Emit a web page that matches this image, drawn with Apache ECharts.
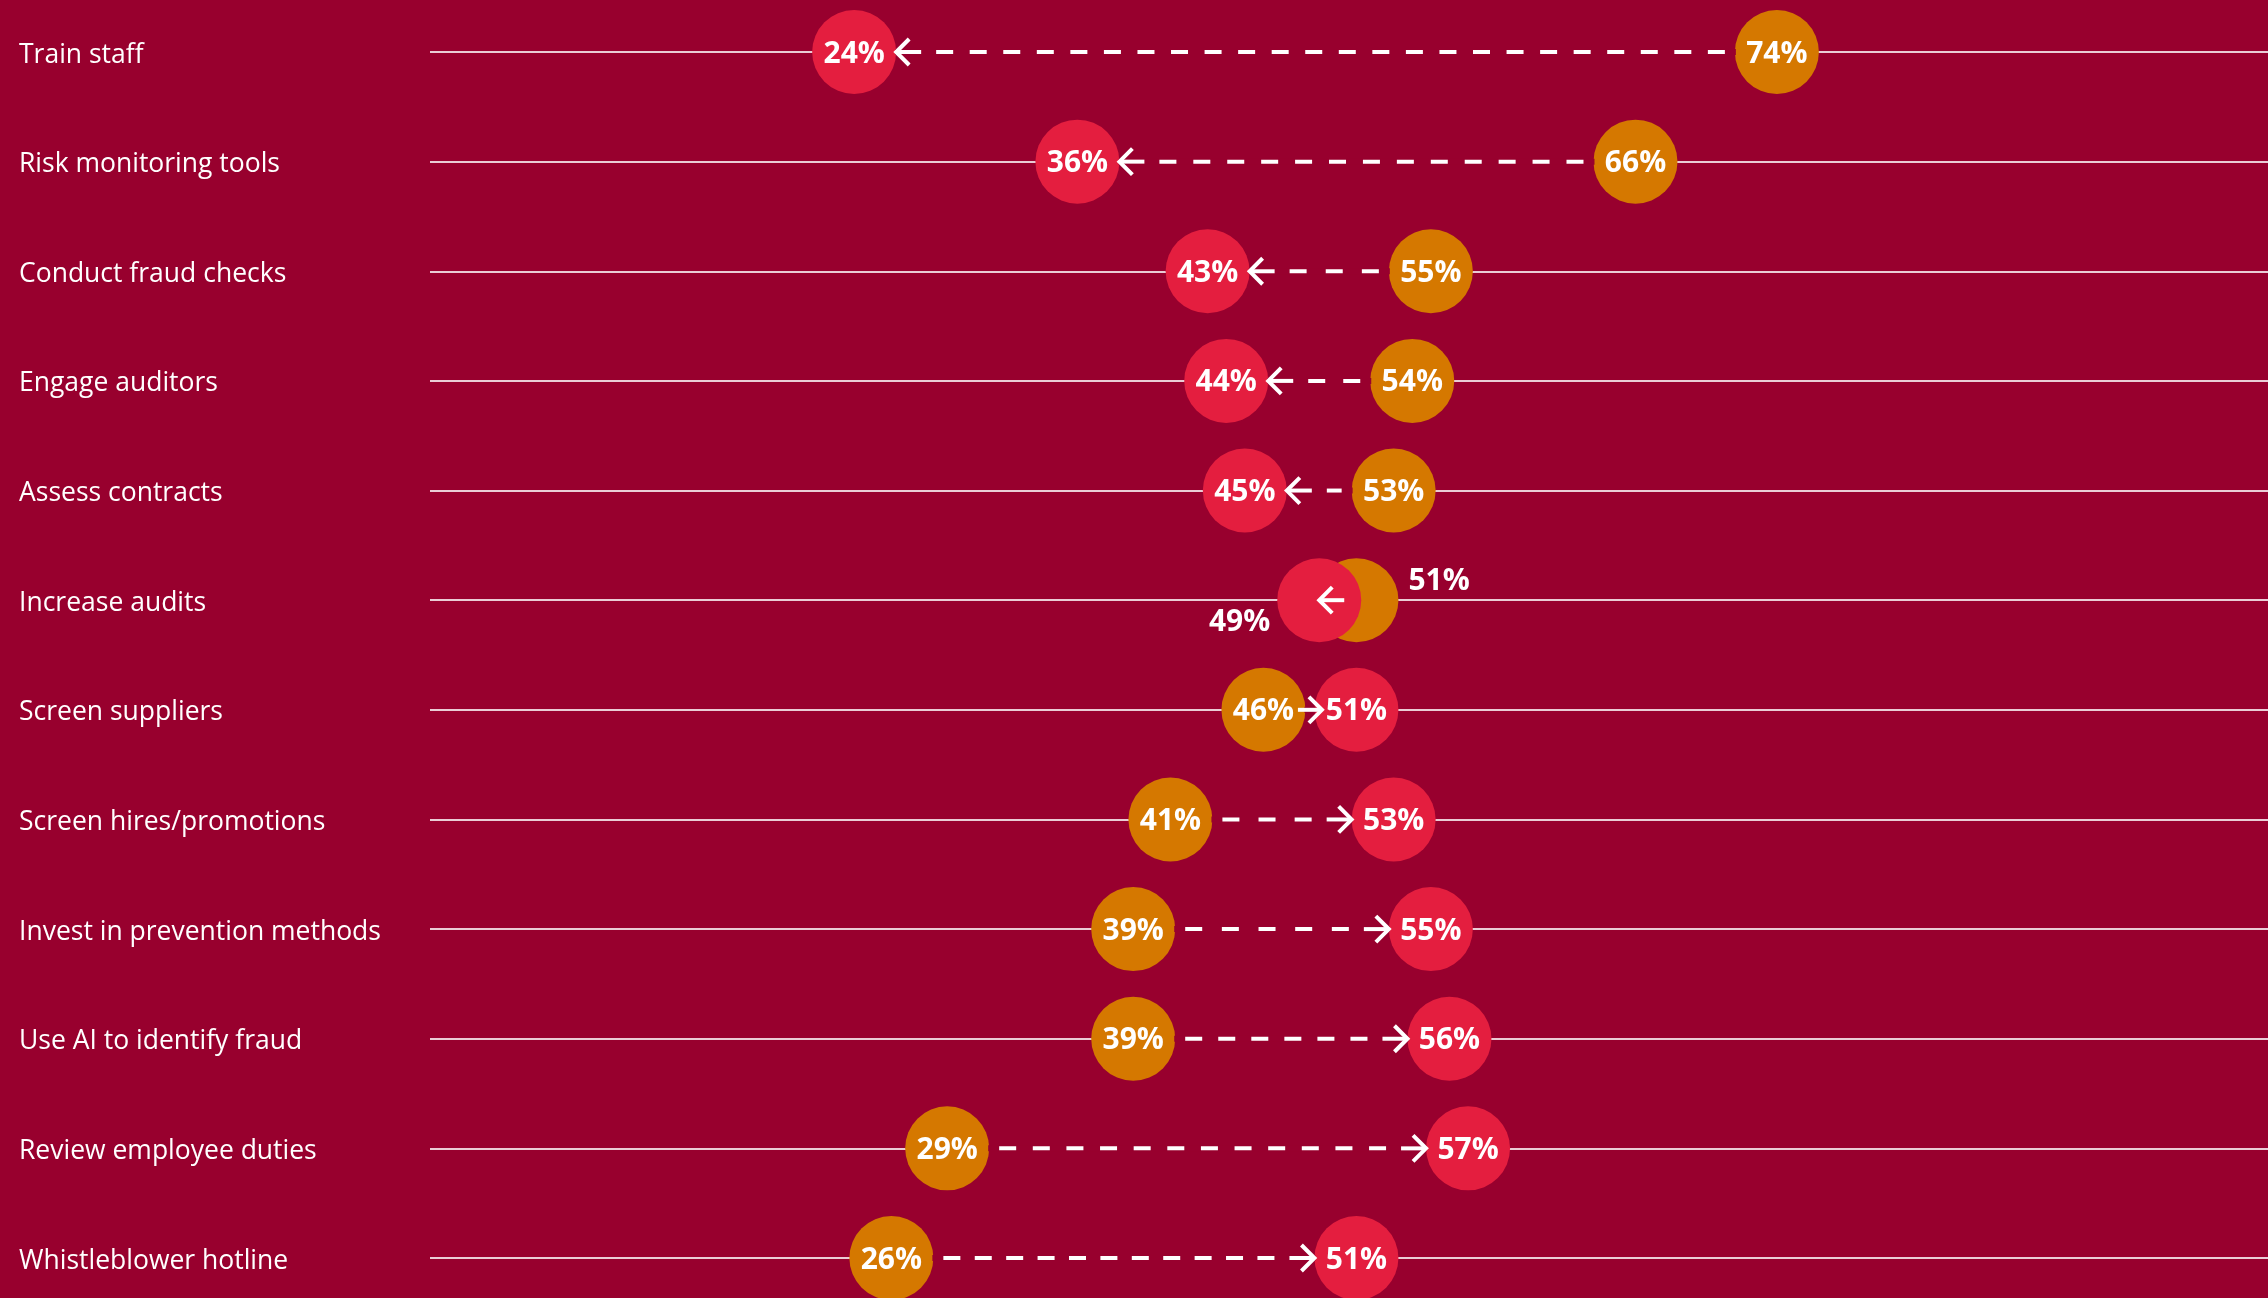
<!DOCTYPE html>
<html>
<head>
<meta charset="utf-8">
<script src="https://cdn.jsdelivr.net/npm/echarts@6/dist/echarts.min.js"></script>
<style>
  html, body { margin: 0; padding: 0; background: #98002E; }
  #chart { width: 2268px; height: 1298px; }
</style>
</head>
<body>
<div id="chart"></div>
<script>
// ---- data ----
const categories = [
  'Train staff',
  'Risk monitoring tools',
  'Conduct fraud checks',
  'Engage auditors',
  'Assess contracts',
  'Increase audits',
  'Screen suppliers',
  'Screen hires/promotions',
  'Invest in prevention methods',
  'Use AI to identify fraud',
  'Review employee duties',
  'Whistleblower hotline'
];
// starting values (orange circles)
const fromValues = [73.6, 66, 55, 54, 53, 51, 46, 41, 39, 39, 29, 26];
// ending values (red circles, arrow heads point at them)
const toValues = [24, 36, 43, 44, 45, 49, 51, 53, 55, 56, 57, 51];

// ---- styling ----
const BG = '#98002E';
const RED = '#E41E3F';
const ORANGE = '#D57800';
const R = 42;             // circle radius in px
const LABEL_FONT = '"Open Sans", "Noto Sans", sans-serif';
const DASH = 17, GAP = 16;

function pct(v) { return Math.round(v) + '%'; }

function overlaps(i) { return Math.abs(fromValues[i] - toValues[i]) < 4.5; }

const fromData = fromValues.map((v, i) => {
  const item = { value: [v, i] };
  if (overlaps(i)) {
    item.label = { position: 'right', distance: 10, offset: [0, -19] };
  }
  return item;
});
const toData = toValues.map((v, i) => {
  const item = { value: [v, i] };
  if (overlaps(i)) {
    item.label = { position: 'left', distance: 7, offset: [0, 22] };
  }
  return item;
});
const arrowData = categories.map((c, i) => [i, fromValues[i], toValues[i]]);

const chart = echarts.init(document.getElementById('chart'), null, { renderer: 'canvas' });

function renderArrow(params, api) {
  const idx = api.value(0);
  const pFrom = api.coord([api.value(1), idx]);
  const pTo = api.coord([api.value(2), idx]);
  const y = pFrom[1];
  const dx = pTo[0] - pFrom[0];
  const dir = dx >= 0 ? 1 : -1;      // direction of travel
  const s = -dir;                     // from tip back toward tail
  const dist = Math.abs(dx);
  const children = [];
  let tip, tail, fit = true;
  if (dist < 2 * R) {
    tip = pTo[0];
    tail = pFrom[0] + dir * 6;
    fit = false;
  } else {
    children.push({
      type: 'line',
      shape: { x1: pFrom[0] + dir * (R - 1), y1: y, x2: pTo[0] - dir * (R - 1), y2: y },
      style: { stroke: BG, lineWidth: 6 }
    });
    if (dist - 2 * R < 40) {
      const mid = (pFrom[0] + pTo[0]) / 2;
      tip = mid + dir * 12;
      tail = mid - dir * 12;
    } else {
      tip = pTo[0] - dir * R;
      tail = pFrom[0] + dir * (R + 10);
    }
  }
  const shaft = Math.min(25, Math.abs(tip - tail));
  const style = { stroke: '#ffffff', lineWidth: 4, fill: null };
  children.push({
    type: 'polyline',
    shape: { points: [[tip + s * 13, y - 13], [tip, y], [tip + s * 13, y + 13]] },
    style: Object.assign({ lineJoin: 'miter' }, style)
  });
  children.push({
    type: 'line',
    shape: { x1: tip, y1: y, x2: tip + s * shaft, y2: y },
    style: style
  });
  const dashStart = tip + s * (shaft + 15);
  const L = (tail - dashStart) * s;
  if (L > 0) {
    let dash = [DASH, GAP];
    if (fit) {
      const n = Math.max(1, Math.round((L + GAP) / (DASH + GAP)));
      if (n >= 2) {
        dash = [DASH, (L - n * DASH) / (n - 1)];
      } else {
        dash = [Math.min(DASH, L), 1000];
      }
    }
    children.push({
      type: 'line',
      shape: { x1: dashStart, y1: y, x2: tail, y2: y },
      style: Object.assign({ lineDash: dash }, style)
    });
  }
  return { type: 'group', children: children };
}

const option = {
  backgroundColor: BG,
  animation: false,
  grid: { left: 430, right: 0, top: 52, bottom: 40 },
  xAxis: {
    type: 'value',
    min: 1.2,
    max: 100,
    show: false
  },
  yAxis: {
    type: 'category',
    data: categories,
    inverse: true,
    boundaryGap: false,
    axisLine: { show: false },
    axisTick: { show: false },
    splitLine: { show: true, lineStyle: { color: 'rgba(255,255,255,0.8)', width: 2 } },
    axisLabel: {
      align: 'left',
      margin: 411,
      formatter: v => '{c|' + v + '}',
      rich: {
        c: {
          color: '#ffffff',
          fontSize: 26.5,
          fontFamily: LABEL_FONT,
          fontWeight: 'normal',
          padding: [6, 0, 0, 0]
        }
      }
    }
  },
  series: [
    {
      name: 'From',
      type: 'scatter',
      z: 2,
      symbol: 'circle',
      symbolSize: 2 * R,
      itemStyle: { color: ORANGE, opacity: 1 },
      data: fromData,
      label: {
        show: true,
        position: 'inside',
        offset: [0, 2],
        formatter: p => pct(p.value[0]),
        color: '#ffffff',
        fontSize: 30,
        fontWeight: 'bold',
        fontFamily: LABEL_FONT
      },
      emphasis: { disabled: true }
    },
    {
      name: 'To',
      type: 'scatter',
      z: 3,
      symbol: 'circle',
      symbolSize: 2 * R,
      itemStyle: { color: RED, opacity: 1 },
      data: toData,
      label: {
        show: true,
        position: 'inside',
        offset: [0, 2],
        formatter: p => pct(p.value[0]),
        color: '#ffffff',
        fontSize: 30,
        fontWeight: 'bold',
        fontFamily: LABEL_FONT
      },
      emphasis: { disabled: true }
    },
    {
      name: 'Change',
      type: 'custom',
      z: 4,
      renderItem: renderArrow,
      encode: { x: [1, 2], y: 0 },
      data: arrowData,
      silent: true
    }
  ]
};
chart.setOption(option);
</script>
</body>
</html>
